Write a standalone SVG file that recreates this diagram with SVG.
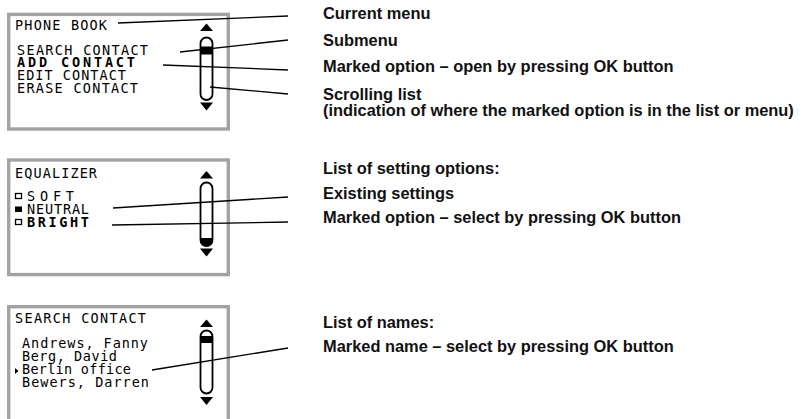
<svg xmlns="http://www.w3.org/2000/svg" width="805" height="419" viewBox="0 0 805 419">
<style>
.screen{fill:#fff;stroke:#a3a3a3;stroke-width:3.4}
.lcd{font-family:"DejaVu Sans Mono","Liberation Mono",monospace;font-size:13.5px;fill:#000}
.b{font-weight:bold}
.lbl{font-family:"Liberation Sans",Arial,sans-serif;font-weight:bold;font-size:16.4px;fill:#111}
.conn{stroke:#000;stroke-width:1.3;fill:none}
.track{fill:#fff;stroke:#000;stroke-width:1.8}
.blk{fill:#000}
.box{fill:#fff;stroke:#000;stroke-width:1.3}
</style>
<rect width="805" height="419" fill="#fff"/>

<g id="screen-phonebook">
<rect class="screen" x="8.7" y="14.4" width="219.6" height="114.6"/>
<text class="lcd" x="15" y="29.5" textLength="92" lengthAdjust="spacing">PHONE BOOK</text>
<text class="lcd" x="17" y="55" textLength="131" lengthAdjust="spacing">SEARCH CONTACT</text>
<text class="lcd b" x="17" y="67" textLength="118" lengthAdjust="spacing">ADD CONTACT</text>
<text class="lcd" x="17" y="80" textLength="109" lengthAdjust="spacing">EDIT CONTACT</text>
<text class="lcd" x="17" y="93" textLength="121" lengthAdjust="spacing">ERASE CONTACT</text>
<polygon class="blk" points="200,31 213,31 206.5,23.5"/>
<rect class="track" x="200.5" y="37.5" width="12" height="62.5" rx="6"/>
<rect class="blk" x="201" y="46.5" width="11" height="8"/>
<polygon class="blk" points="200,102.5 213,102.5 206.5,110.5"/>
</g>

<g id="screen-equalizer">
<rect class="screen" x="8.7" y="160" width="219.6" height="114.6"/>
<text class="lcd" x="15" y="177.5" textLength="82" lengthAdjust="spacing">EQUALIZER</text>
<rect class="box" x="15.5" y="193.5" width="6" height="5"/>
<text class="lcd" x="27" y="201" textLength="47" lengthAdjust="spacing">SOFT</text>
<rect class="blk" x="15" y="206.5" width="7" height="5.5"/>
<text class="lcd" x="27" y="214" textLength="62" lengthAdjust="spacing">NEUTRAL</text>
<rect class="box" x="15.5" y="219.5" width="6" height="5"/>
<text class="lcd b" x="27" y="227" textLength="62" lengthAdjust="spacing">BRIGHT</text>
<polygon class="blk" points="200,178.5 213,178.5 206.5,171"/>
<rect class="track" x="200.5" y="182.5" width="12" height="63.5" rx="6"/>
<path class="blk" d="M200.5,238 H212.5 V240 A6,6 0 0 1 200.5,240 Z"/>
<polygon class="blk" points="200,248.5 213,248.5 206.5,256.5"/>
</g>

<g id="screen-search">
<rect class="screen" x="8.7" y="306.7" width="219.6" height="114.6"/>
<text class="lcd" x="15" y="323" textLength="131" lengthAdjust="spacing">SEARCH CONTACT</text>
<text class="lcd" x="22" y="347.5" textLength="126" lengthAdjust="spacing">Andrews, Fanny</text>
<text class="lcd" x="22" y="361" textLength="95" lengthAdjust="spacing">Berg, David</text>
<polygon class="blk" points="15,368 15,374 18.5,371"/>
<text class="lcd" x="22" y="374" textLength="109" lengthAdjust="spacing">Berlin office</text>
<text class="lcd" x="22" y="387" textLength="127" lengthAdjust="spacing">Bewers, Darren</text>
<polygon class="blk" points="200,327 213,327 206.5,319.5"/>
<rect class="track" x="200.5" y="330.5" width="12" height="63" rx="6"/>
<rect class="blk" x="201" y="336" width="11" height="7"/>
<polygon class="blk" points="200,397 213,397 206.5,405"/>
</g>

<g id="connectors">
<line class="conn" x1="118" y1="23" x2="288" y2="16"/>
<line class="conn" x1="180" y1="52" x2="288" y2="40"/>
<line class="conn" x1="163" y1="65" x2="288" y2="70"/>
<line class="conn" x1="210" y1="87" x2="288" y2="94"/>
<line class="conn" x1="113" y1="208" x2="288" y2="197"/>
<line class="conn" x1="112" y1="225" x2="288" y2="222"/>
<line class="conn" x1="152" y1="370" x2="288" y2="348"/>
</g>

<g id="label-current-menu"><text class="lbl" x="323" y="19">Current menu</text></g>
<g id="label-submenu"><text class="lbl" x="323" y="45.5">Submenu</text></g>
<g id="label-marked-open"><text class="lbl" x="323" y="72">Marked option – open by pressing OK button</text></g>
<g id="label-scrolling"><text class="lbl" x="323" y="99.5">Scrolling list</text><text class="lbl" x="323" y="115.5">(indication of where the marked option is in the list or menu)</text></g>
<g id="label-setting-options"><text class="lbl" x="323" y="174">List of setting options:</text></g>
<g id="label-existing"><text class="lbl" x="323" y="199">Existing settings</text></g>
<g id="label-marked-select"><text class="lbl" x="323" y="223">Marked option – select by pressing OK button</text></g>
<g id="label-names"><text class="lbl" x="323" y="328">List of names:</text></g>
<g id="label-marked-name"><text class="lbl" x="323" y="352">Marked name – select by pressing OK button</text></g>
</svg>
